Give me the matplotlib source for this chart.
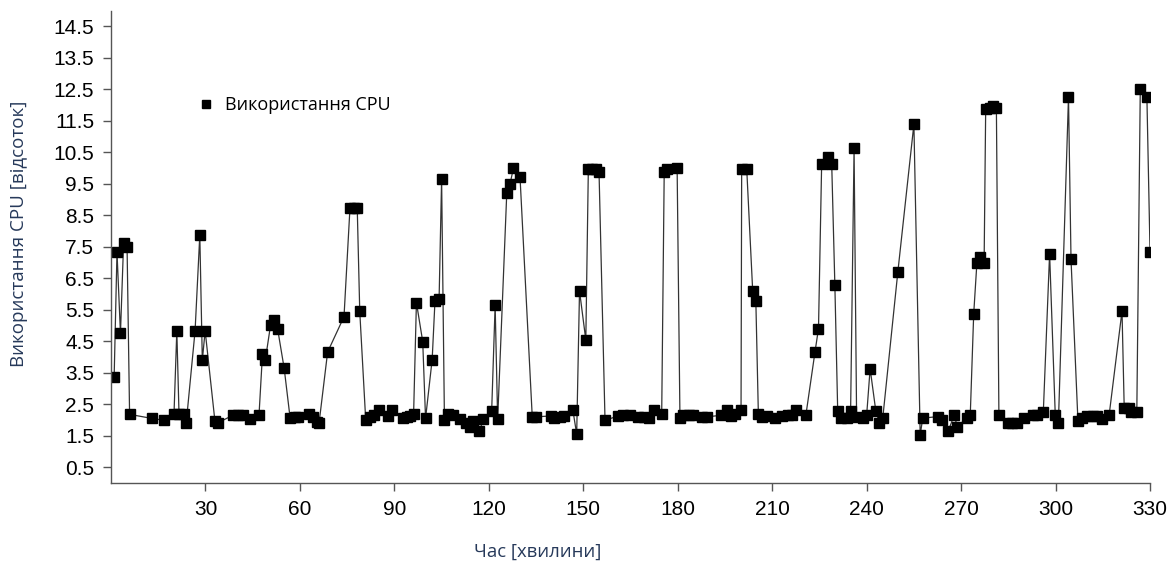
import matplotlib
matplotlib.use('Agg')
import matplotlib.pyplot as plt

# час (хвилини) та використання CPU (%)
minutes = [1, 1.9, 3, 4, 5.1, 5.9, 13, 16.9, 20, 20.9, 21.6, 23.1, 23.9,
           26.7, 28.2, 29, 29.9, 33, 34.1, 38.9, 40.4, 41.8, 44.1, 47, 48.1,
           49, 50.7, 51.9, 52.9, 55, 56.9, 58.5, 59.3, 63, 64, 65.3, 66.1,
           68.8, 74, 75.9, 77.1, 78.2, 79, 80.9, 82.3, 83.6, 85, 88.1, 89.1,
           92.8, 93.9, 95.1, 96.1, 97, 99, 99.9, 102, 102.9, 104.2, 105,
           105.9, 107.1, 108.7, 110.9, 112.8, 114, 115.1, 117, 118.3, 120.9,
           122, 122.8, 125.7, 126.7, 127.8, 129.9, 133.8, 134.9, 139.8, 140.8,
           142.6, 143.9, 146.7, 147.9, 148.8, 150.8, 151.6, 152.9, 154, 155,
           156.9, 161.1, 162.7, 164.8, 167.5, 169.4, 171, 172.6, 174.9, 175.7,
           176.7, 179.8, 180.7, 181.8, 183.6, 185, 187.6, 189.2, 193.8, 195.6,
           196.8, 198.2, 200.1, 200.3, 201.9, 203.8, 204.8, 205.6, 206.7,
           208.3, 210.9, 213, 215.1, 216.4, 217.7, 220.7, 223.6, 224.7, 225.7,
           227.6, 228.9, 229.9, 230.8, 231.8, 233.7, 234.9, 236, 236.8, 238.8,
           240, 241.1, 242.9, 244, 245.1, 249.9, 255, 257, 257.8, 262.8, 263.8,
           265.9, 267.8, 268.8, 271.8, 272.9, 274, 275, 276, 277.3, 277.8,
           279.1, 280, 281.2, 282, 284.8, 286.3, 287.8, 290.1, 292.7, 294,
           296.1, 298.1, 299.9, 300.9, 304.1, 304.9, 307.1, 308.3, 309.9, 312,
           313.1, 314.9, 317, 321.1, 321.8, 323.2, 324, 325.8, 326.9, 329, 330]
cpu = [3.38, 7.33, 4.75, 7.63, 7.5, 2.18, 2.05, 1.99, 2.18, 4.83, 2.18, 2.18,
       1.92, 4.83, 7.87, 3.9, 4.83, 1.97, 1.92, 2.16, 2.16, 2.15, 2.02, 2.15,
       4.08, 3.9, 5.03, 5.16, 4.9, 3.64, 2.05, 2.11, 2.1, 2.18, 2.08, 1.94,
       1.92, 4.16, 5.28, 8.74, 8.74, 8.74, 5.45, 1.99, 2.11, 2.15, 2.32, 2.13,
       2.31, 2.05, 2.08, 2.13, 2.18, 5.73, 4.49, 2.05, 3.92, 5.79, 5.84, 9.64,
       1.99, 2.18, 2.15, 2.02, 1.92, 1.79, 1.97, 1.65, 2.02, 2.29, 5.65, 2.02,
       9.22, 9.48, 9.99, 9.72, 2.08, 2.1, 2.13, 2.05, 2.1, 2.13, 2.31, 1.55,
       6.1, 4.54, 9.96, 9.98, 9.98, 9.86, 1.99, 2.13, 2.16, 2.15, 2.11, 2.1,
       2.05, 2.31, 2.18, 9.88, 9.98, 10.0, 2.05, 2.15, 2.16, 2.16, 2.11, 2.1,
       2.15, 2.31, 2.13, 2.18, 2.31, 9.98, 9.98, 6.1, 5.78, 2.2, 2.08, 2.13,
       2.05, 2.13, 2.16, 2.17, 2.31, 2.16, 4.17, 4.9, 10.12, 10.35, 10.12,
       6.28, 2.29, 2.05, 2.05, 2.29, 10.63, 2.1, 2.05, 2.16, 3.63, 2.29, 1.92,
       2.05, 6.7, 11.39, 1.52, 2.06, 2.11, 2.0, 1.65, 2.15, 1.79, 2.05, 2.15,
       5.38, 6.97, 7.16, 6.97, 11.87, 11.92, 11.97, 11.9, 2.15, 1.89, 1.89,
       1.89, 2.05, 2.15, 2.16, 2.24, 7.28, 2.16, 1.92, 12.26, 7.1, 1.97, 2.05,
       2.13, 2.13, 2.13, 2.02, 2.15, 5.46, 2.37, 2.37, 2.26, 2.26, 12.5, 12.26,
       7.33]

x_ticks = list(range(30, 331, 30))
y_ticks = [v + 0.5 for v in range(0, 15)]

plt.rcParams['font.family'] = ['Liberation Sans', 'DejaVu Sans']

fig = plt.figure(figsize=(11.71, 5.65), dpi=100)
ax = fig.add_axes([0.0948, 0.1451, 0.8873, 0.8363])

ax.plot(minutes, cpu, color='#333333', linewidth=0.9, marker='s',
        markersize=7, markerfacecolor='black', markeredgecolor='black',
        label='Використання CPU')

ax.set_xlim(0, 330)
ax.set_ylim(0, 15)
ax.set_xticks(x_ticks)
ax.set_yticks(y_ticks)
ax.set_yticklabels([f'{v:.1f}' for v in y_ticks])
ax.tick_params(axis='both', labelsize=15, length=6, width=1, color='#555555',
               pad=6)
for side in ('top', 'right'):
    ax.spines[side].set_visible(False)
for side in ('left', 'bottom'):
    ax.spines[side].set_color('#555555')
    ax.spines[side].set_linewidth(1)

leg = ax.legend(loc='upper left', bbox_to_anchor=(0.071, 0.853), frameon=False,
                handlelength=0.6, handletextpad=0.75, markerscale=0.9,
                prop={'family': 'Open Sans', 'size': 13})
leg.get_lines()[0].set_linestyle('none')

fig.text(0.016, 0.586, 'Використання CPU [відсоток]', rotation=90,
         ha='center', va='center', fontsize=13.5, family='Open Sans',
         color='#26395a')
fig.text(0.459, 0.023, 'Час [хвилини]', ha='center', va='center',
         fontsize=13.3, family='Open Sans', color='#26395a')

fig.savefig('out.png', dpi=100)
